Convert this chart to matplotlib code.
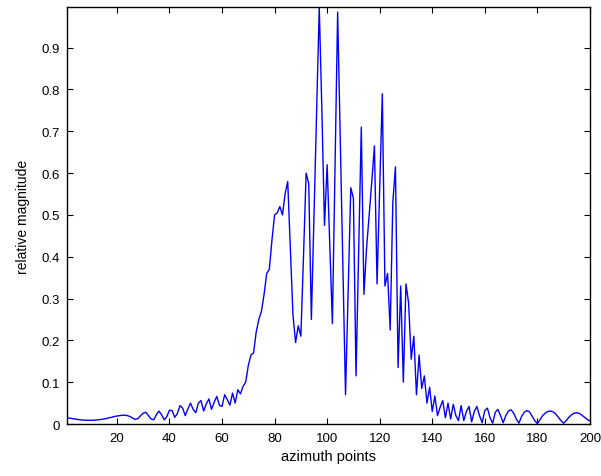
import numpy as np
import matplotlib
matplotlib.use('Agg')
import matplotlib.pyplot as plt

# relative magnitude per azimuth point
magnitude = [
    0.015, 0.014, 0.013, 0.012, 0.011, 0.010, 0.0095, 0.009, 0.009, 0.009,
    0.009, 0.0095, 0.010, 0.011, 0.012, 0.013, 0.015, 0.016, 0.018, 0.019,
    0.020, 0.021, 0.021, 0.020, 0.018, 0.014, 0.011, 0.013, 0.020, 0.026,
    0.028, 0.020, 0.012, 0.010, 0.022, 0.031, 0.022, 0.010, 0.018, 0.033,
    0.032, 0.016, 0.025, 0.044, 0.038, 0.020, 0.036, 0.050, 0.035, 0.027,
    0.050, 0.056, 0.031, 0.048, 0.060, 0.035, 0.052, 0.066, 0.045, 0.042,
    0.070, 0.058, 0.045, 0.074, 0.050, 0.082, 0.072, 0.090, 0.100, 0.140,
    0.165, 0.170, 0.220, 0.250, 0.270, 0.310, 0.360, 0.370, 0.440, 0.500,
    0.505, 0.520, 0.500, 0.550, 0.580, 0.420, 0.260, 0.195, 0.235, 0.210,
    0.400, 0.600, 0.575, 0.250, 0.500, 0.750, 0.997, 0.750, 0.475, 0.620,
    0.430, 0.240, 0.610, 0.985, 0.680, 0.370, 0.070, 0.320, 0.565, 0.540,
    0.115, 0.410, 0.710, 0.310, 0.420, 0.500, 0.580, 0.665, 0.335, 0.560,
    0.790, 0.330, 0.360, 0.225, 0.530, 0.615, 0.135, 0.330, 0.100, 0.335,
    0.290, 0.155, 0.210, 0.070, 0.165, 0.085, 0.115, 0.050, 0.088, 0.030,
    0.067, 0.020, 0.040, 0.056, 0.015, 0.050, 0.012, 0.047, 0.020, 0.008,
    0.044, 0.008, 0.030, 0.042, 0.005, 0.030, 0.042, 0.020, 0.003, 0.032,
    0.038, 0.015, 0.002, 0.028, 0.035, 0.020, 0.003, 0.020, 0.031, 0.034,
    0.026, 0.012, 0.002, 0.018, 0.028, 0.032, 0.029, 0.019, 0.008, 0.001,
    0.010, 0.020, 0.026, 0.030, 0.031, 0.029, 0.024, 0.016, 0.008, 0.002,
    0.008, 0.016, 0.022, 0.026, 0.027, 0.025, 0.021, 0.016, 0.011, 0.007,
]
azimuth = np.arange(1, len(magnitude) + 1)

xticks = [20, 40, 60, 80, 100, 120, 140, 160, 180, 200]
yticks = [0, 0.1, 0.2, 0.3, 0.4, 0.5, 0.6, 0.7, 0.8, 0.9]
ytick_labels = ['0', '0.1', '0.2', '0.3', '0.4', '0.5', '0.6', '0.7', '0.8', '0.9']

plt.rcParams['font.family'] = ['Liberation Sans', 'DejaVu Sans']

fig = plt.figure(figsize=(6.01, 4.77), dpi=100)
ax = fig.add_axes([0.1115, 0.109, 0.870, 0.874])

ax.plot(azimuth, magnitude, color='#0000ff', linewidth=1.0)

ax.set_xlim(1, 200)
ax.set_ylim(0, max(magnitude))
ax.set_xticks(xticks)
ax.set_yticks(yticks)
ax.set_yticklabels(ytick_labels)
ax.tick_params(direction='in', top=True, right=True, length=4, width=0.8,
               labelsize=9.5)
ax.tick_params(axis='x', pad=6)
ax.tick_params(axis='y', pad=5)
for s in ax.spines.values():
    s.set_linewidth(1.0)

ax.set_xlabel('azimuth points', fontsize=10.5, labelpad=3)
ax.set_ylabel('relative magnitude', fontsize=10, labelpad=8)

fig.savefig('out.png', dpi=100)
